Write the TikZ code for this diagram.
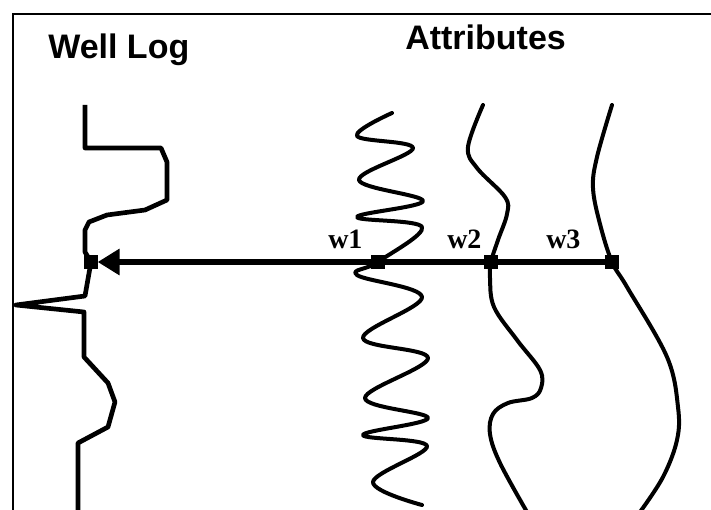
\documentclass[tikz,border=0pt]{standalone}
\usepackage{fontspec}
\setmainfont{Liberation Sans}
\newfontfamily\serifb{Liberation Serif}
\usetikzlibrary{arrows.meta}
\begin{document}
\begin{tikzpicture}[x=0.75pt,y=-0.75pt,
  curve/.style={line width=3pt, line join=round, line cap=round},
  logline/.style={line width=3.5pt, line join=round},
  axis/.style={line width=4.4pt},
  sq/.style={fill=black, minimum size=10pt, inner sep=0pt, outer sep=0pt},
  title/.style={font=\bfseries\fontsize{25.5}{30}\selectfont, anchor=base west, inner sep=0pt},
  wlab/.style={font=\serifb\bfseries\fontsize{21}{23}\selectfont, anchor=base west, inner sep=0pt}]
\useasboundingbox (0,0) rectangle (711,510);
\draw[line width=1.2pt] (13,511) -- (13,14) -- (712,14);
% titles
\node[title] (tw) at (48,59) {Well Log};
\node[title] (ta) at (405,50) {Attributes};
% squares
\node[sq] (s0) at (91,262) {};
\node[sq] (s1) at (378,262) {};
\node[sq] (s2) at (491,262) {};
\node[sq] (s3) at (612,262) {};
% labels
\node[wlab] (l1) at (328,248) {w1};
\node[wlab] (l2) at (447,248) {w2};
\node[wlab] (l3) at (546,248) {w3};
% well log
\draw[logline] (85,105) -- (85,148) -- (161,148) -- (167,162) -- (167,200) -- (145,210) -- (107,215) -- (89,222) -- (85,230) -- (85,252) -- (s0.center) -- (85,296) -- (16,305) -- (84,312) -- (84,357) -- (108,383) -- (115,402) -- (108,427) -- (78,443) -- (78,512);
% attribute curves
\draw[curve] plot[smooth, tension=0.6] coordinates {(392,113) (357,136) (413,148) (359,180) (423,201) (357,217) (422,227) (378,262) (357,275) (422,297) (363,338) (428,358) (365,398) (428,418) (363,435) (427,446) (373,482) (422,505)};
\draw[curve] plot[smooth, tension=0.6] coordinates {(483,105) (468,147) (477,168) (505,197) (507,214) (498,240) (491,262) (490,278) (494,307) (517,340) (540,370) (541,388) (532,398) (508,403) (493,414) (490,434) (500,463) (527,512)};
\draw[curve] plot[smooth, tension=0.6] coordinates {(612,105) (597,157) (593,188) (600,224) (612,262) (627,287) (667,357) (678,407) (677,440) (663,477) (640,512)};
% connector
\draw[axis, -{Triangle[length=16.5pt,width=19pt]}] (s3.center) -- (s0.east);
\end{tikzpicture}
\end{document}
